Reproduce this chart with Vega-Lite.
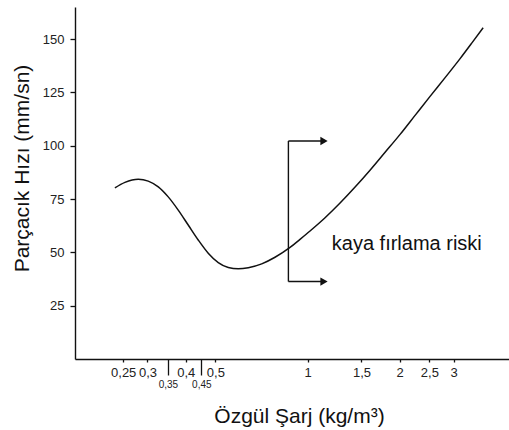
{
  "$schema": "https://vega.github.io/schema/vega-lite/v6.json",
  "width": 434,
  "height": 352,
  "autosize": "none",
  "padding": {"left": 75, "top": 7, "right": 0, "bottom": 71},
  "background": "white",
  "config": {"view": {"stroke": null}, "font": "Liberation Sans"},
  "datasets": {
    "curve": [
      {"x": 0.2349, "y": 80.2}, {"x": 0.2533, "y": 82.8}, {"x": 0.28, "y": 84.3},
      {"x": 0.3018, "y": 83.4}, {"x": 0.3255, "y": 80.7}, {"x": 0.3508, "y": 76.0},
      {"x": 0.3782, "y": 69.8}, {"x": 0.4077, "y": 62.8}, {"x": 0.4395, "y": 55.8},
      {"x": 0.4739, "y": 49.6}, {"x": 0.511, "y": 45.2}, {"x": 0.551, "y": 42.9},
      {"x": 0.594, "y": 42.3}, {"x": 0.6405, "y": 42.8}, {"x": 0.7086, "y": 44.6},
      {"x": 0.783, "y": 47.7}, {"x": 0.8767, "y": 52.3}, {"x": 0.9451, "y": 56.1},
      {"x": 1.019, "y": 60.0}, {"x": 1.141, "y": 66.2}, {"x": 1.277, "y": 73.1},
      {"x": 1.43, "y": 80.6}, {"x": 1.6, "y": 88.5}, {"x": 1.792, "y": 96.9},
      {"x": 2.006, "y": 105.3}, {"x": 2.245, "y": 114.2}, {"x": 2.513, "y": 123.1},
      {"x": 2.814, "y": 131.9}, {"x": 3.15, "y": 140.8}, {"x": 3.448, "y": 148.3},
      {"x": 3.746, "y": 155.3}
    ],
    "bracket": [{"x": 0.866, "y": 36.3, "y2": 102.2}],
    "arrows": [
      {"x": 0.866, "x2": 1.12, "y": 102.2},
      {"x": 0.866, "x2": 1.12, "y": 36.3}
    ],
    "heads": [{"x": 1.132, "y": 102.2}, {"x": 1.132, "y": 36.3}],
    "note": [{"x": 1.2, "y": 53.9, "text": "kaya fırlama riski"}],
    "yticks": [{"y": 25}, {"y": 50}, {"y": 75}, {"y": 100}, {"y": 125}, {"y": 150}],
    "xticks": [{"x": 0.25}, {"x": 0.3}, {"x": 0.35}, {"x": 0.4}, {"x": 0.45}, {"x": 0.5}, {"x": 1}, {"x": 1.5}, {"x": 2}, {"x": 2.5}, {"x": 3}]
  },
  "encoding": {
    "x": {
      "field": "x", "type": "quantitative",
      "scale": {"type": "log", "domain": [0.174, 4.55], "nice": false, "zero": false},
      "axis": {
        "title": "Özgül Şarj (kg/m³)",
        "values": [0.25, 0.3, 0.35, 0.4, 0.45, 0.5, 1, 1.5, 2, 2.5, 3],
        "labelExpr": "replace(toString(datum.value), '.', ',')",
        "grid": false,
        "domainColor": "#111", "domainWidth": 1.4,
        "tickColor": "#111", "tickWidth": 1.3,
        "tickSize": {"condition": {"test": "datum.value == 0.35 || datum.value == 0.45", "value": 16}, "value": 3},
        "labelFontSize": {"condition": {"test": "datum.value == 0.35 || datum.value == 0.45", "value": 10}, "value": 13},
        "labelPadding": 4,
        "labelColor": "#222", "labelFont": "Liberation Sans",
        "labelFlush": false, "labelOverlap": false,
        "titleFont": "Liberation Sans", "titleFontSize": 21, "titleFontWeight": "normal",
        "titleColor": "#111", "titleX": 224, "titleY": 63, "titleBaseline": "alphabetic", "titleAlign": "center"
      }
    },
    "y": {
      "field": "y", "type": "quantitative",
      "scale": {"domain": [0, 165], "nice": false},
      "axis": {
        "title": "Parçacık Hızı (mm/sn)",
        "values": [25, 50, 75, 100, 125, 150],
        "grid": false,
        "domainColor": "#111", "domainWidth": 1.4,
        "tickColor": "#111", "tickWidth": 1.3, "tickSize": 5,
        "labelFontSize": 13, "labelColor": "#222", "labelPadding": 6, "labelFont": "Liberation Sans",
        "titleFont": "Liberation Sans", "titleFontSize": 21, "titleFontWeight": "normal",
        "titleColor": "#111", "titleX": -53, "titleY": 161, "titleBaseline": "middle", "titleAlign": "center", "titleAngle": -90
      }
    }
  },
  "layer": [
    {
      "data": {"name": "curve"},
      "mark": {"type": "line", "interpolate": "monotone", "color": "#111", "strokeWidth": 1.5}
    },
    {
      "data": {"name": "bracket"},
      "mark": {"type": "rule", "color": "#111", "strokeWidth": 1.4},
      "encoding": {"y2": {"field": "y2"}}
    },
    {
      "data": {"name": "arrows"},
      "mark": {"type": "rule", "color": "#111", "strokeWidth": 1.4},
      "encoding": {"x2": {"field": "x2"}}
    },
    {
      "data": {"name": "heads"},
      "mark": {"type": "point", "shape": "triangle-right", "filled": true, "color": "#111", "opacity": 1, "size": 70}
    },
    {
      "data": {"name": "yticks"},
      "mark": {"type": "tick", "orient": "horizontal", "color": "#111", "thickness": 1.3, "size": 10, "opacity": 1},
      "encoding": {"x": {"datum": 0.174}}
    },
    {
      "data": {"name": "xticks"},
      "mark": {"type": "tick", "orient": "vertical", "color": "#111", "thickness": 1.3, "size": 7, "opacity": 1},
      "encoding": {"y": {"datum": 0}}
    },
    {
      "data": {"name": "note"},
      "mark": {"type": "text", "align": "left", "baseline": "middle", "fontSize": 20, "font": "Liberation Sans", "color": "#111"},
      "encoding": {"text": {"field": "text"}}
    }
  ]
}
